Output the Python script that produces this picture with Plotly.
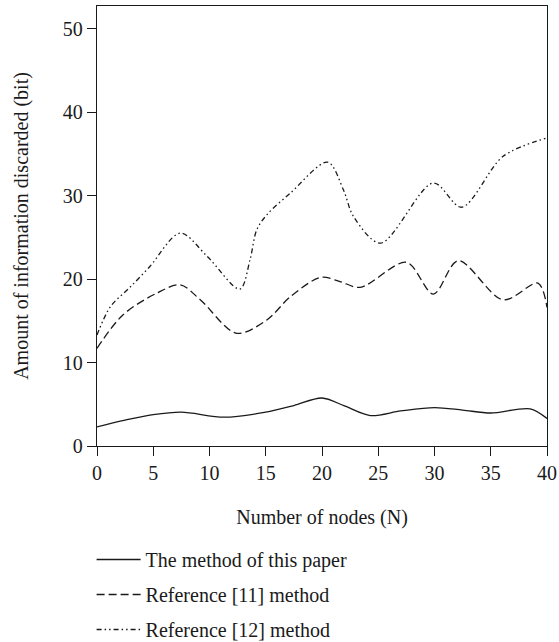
import plotly.graph_objects as go

# Data
x_this = [0, 2.5, 5, 7.5, 11.3, 15, 17.5, 20, 22, 24.3, 27, 30, 32.5, 35, 38.5, 40]
y_this = [2.3, 3.1, 3.75, 4.05, 3.45, 4.05, 4.85, 5.75, 4.8, 3.65, 4.2, 4.6, 4.3, 3.95, 4.45, 3.3]

x_ref11 = [0, 2.3, 5.3, 7.4, 9.2, 12.4, 15.1, 17.2, 19.9, 21.6, 23.4, 27.5, 29.9, 32.1, 36.1, 39.2, 40]
y_ref11 = [11.7, 15.7, 18.3, 19.3, 17.5, 13.5, 15.1, 17.9, 20.2, 19.7, 19.0, 22.0, 18.2, 22.2, 17.5, 19.5, 16.6]

x_ref12 = [0, 1.2, 3.0, 4.7, 7.4, 9.8, 12.7, 13.6, 14.2, 15.1, 17.2, 20.5, 21.9, 22.8, 25.2, 29.9, 32.4, 36.1, 40]
y_ref12 = [13.3, 16.7, 19.1, 21.5, 25.5, 22.7, 18.8, 22.3, 25.9, 27.7, 30.3, 34.0, 30.7, 27.5, 24.3, 31.5, 28.6, 34.7, 36.9]

series_names = ["The method of this paper", "Reference [11] method", "Reference [12] method"]
x_ticks = [0, 5, 10, 15, 20, 25, 30, 35, 40]
y_ticks = [0, 10, 20, 30, 40, 50]

FONT = "Liberation Serif"
INK = "#1a1a1a"
FS = 20

fig = go.Figure()
styles = ["solid", "8px,4px", "5px,3px,1.5px,3px,1.5px,3px"]
for i, (xs, ys) in enumerate([(x_this, y_this), (x_ref11, y_ref11), (x_ref12, y_ref12)]):
    fig.add_trace(go.Scatter(
        x=xs, y=ys, mode="lines", name=series_names[i], legendgroup=f"g{i}",
        line=dict(color=INK, width=1.3, dash=styles[i], shape="spline", smoothing=0.9),
    ))

axis_common = dict(
    showline=True, linecolor=INK, linewidth=1.3, mirror=True,
    ticks="outside", ticklen=9, tickwidth=1.3, tickcolor=INK,
    showgrid=False, zeroline=False,
    tickfont=dict(family=FONT, size=FS, color=INK),
)

fig.update_xaxes(range=[0, 40], tickvals=x_ticks,
                 title=dict(text="Number of nodes (N)", font=dict(family=FONT, size=FS, color=INK), standoff=26),
                 **axis_common)
fig.update_yaxes(range=[0, 52.7], tickvals=y_ticks,
                 title=dict(text="Amount of information discarded (bit)", font=dict(family=FONT, size=FS, color=INK), standoff=28),
                 **axis_common)

fig.update_layout(
    width=559, height=642,
    margin=dict(l=97, r=12, t=6, b=196, autoexpand=False),
    plot_bgcolor="white", paper_bgcolor="white",
    font=dict(family=FONT, size=FS, color=INK),
    showlegend=True,
    legend=dict(x=-0.012, xanchor="left", xref="paper",
                y=1 - 540 / 642, yanchor="top", yref="container",
                orientation="v", tracegroupgap=6, itemwidth=44,
                font=dict(family=FONT, size=FS, color=INK),
                bgcolor="rgba(0,0,0,0)"),
)

fig.write_html("out.html", config={"displayModeBar": False},
               post_script="document.body.style.margin='0';document.body.style.overflow='hidden';")
